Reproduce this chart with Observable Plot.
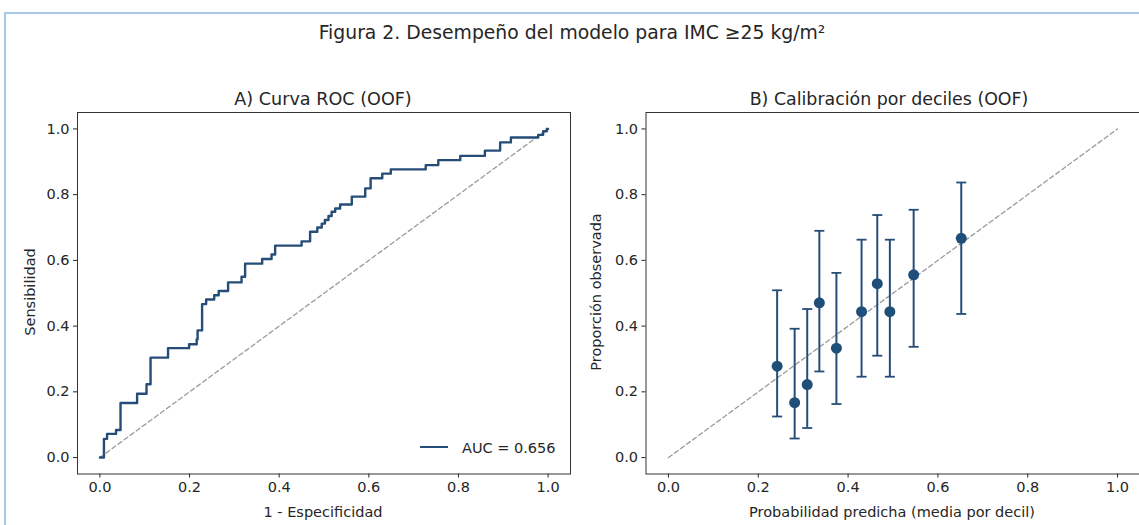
<!DOCTYPE html>
<html><head><meta charset="utf-8">
<script src="https://cdn.jsdelivr.net/npm/d3@7"></script>
<script src="https://cdn.jsdelivr.net/npm/@observablehq/plot@0.6"></script>
<style>
html,body{margin:0;padding:0;background:#fff;overflow:hidden}
#wrap{position:relative;width:1139px;height:525px;overflow:hidden;font-family:"DejaVu Sans",sans-serif;color:#262626}
#border{position:absolute;left:4px;top:12px;width:1300px;height:700px;border:2px solid #a9c7e8;box-sizing:border-box}
.t{position:absolute;white-space:nowrap;transform:translate(-50%,-50%);line-height:1}
.r{position:absolute;white-space:nowrap;transform:translate(-50%,-50%) rotate(-90deg);line-height:1;font-size:14.5px}
.p{position:absolute;top:85px;width:575px;height:440px}
.p svg{max-width:none !important}
#legend{position:absolute;left:420px;top:441px;font-size:14.5px;white-space:nowrap;line-height:1}
#legend .sw{display:inline-block;width:28px;height:0;border-top:2.5px solid #264d78;vertical-align:middle;margin-right:14px;position:relative;top:-2px}
</style></head><body>
<div id="wrap">
  <div id="border"></div>
  <div class="p" id="pA" style="left:0px"></div>
  <div class="p" id="pB" style="left:570px"></div>
  <div class="t" id="fig" style="left:572px;top:33px;font-size:18.8px"></div>
  <div class="t" id="tA" style="left:323px;top:100px;font-size:17.6px"></div>
  <div class="t" id="tB" style="left:889px;top:100px;font-size:17.4px"></div>
  <div class="t" id="xA" style="left:323px;top:512px;font-size:14.5px"></div>
  <div class="t" id="xB" style="left:892px;top:512px;font-size:14.5px"></div>
  <div class="r" id="yA" style="left:30px;top:292px"></div>
  <div class="r" id="yB" style="left:596px;top:292px"></div>
  <div id="legend"><span class="sw"></span><span id="legtxt"></span></div>
</div>
<script>
// ---- Text ----
const figTitle = "Figura 2. Desempeño del modelo para IMC ≥25 kg/m²";
const titleA = "A) Curva ROC (OOF)";
const titleB = "B) Calibración por deciles (OOF)";
const xLabelA = "1 - Especificidad";
const yLabelA = "Sensibilidad";
const xLabelB = "Probabilidad predicha (media por decil)";
const yLabelB = "Proporción observada";
const aucLabel = "AUC = 0.656";
const axisTicks = [0, 0.2, 0.4, 0.6, 0.8, 1.0];
const diagonal = [0, 1];

// ---- ROC curve (corner points; drawn as step-after) ----
const rocFpr = [0.000, 0.009, 0.016, 0.036, 0.046, 0.083, 0.104, 0.113, 0.152, 0.199,
  0.216, 0.218, 0.228, 0.237, 0.255, 0.265, 0.286, 0.316, 0.324, 0.362,
  0.383, 0.391, 0.450, 0.469, 0.485, 0.495, 0.502, 0.510, 0.517, 0.525,
  0.536, 0.562, 0.592, 0.604, 0.630, 0.649, 0.727, 0.755, 0.804, 0.859,
  0.893, 0.917, 0.978, 0.989, 0.997, 1.000];
const rocTpr = [0.000, 0.057, 0.072, 0.084, 0.166, 0.194, 0.223, 0.304, 0.333, 0.345,
  0.360, 0.387, 0.467, 0.481, 0.494, 0.507, 0.533, 0.550, 0.590, 0.604,
  0.618, 0.645, 0.658, 0.687, 0.700, 0.712, 0.723, 0.735, 0.748, 0.758,
  0.770, 0.794, 0.819, 0.850, 0.864, 0.877, 0.890, 0.905, 0.918, 0.934,
  0.959, 0.974, 0.982, 0.993, 1.000, 1.000];

// ---- Calibration by deciles ----
const calPred = [0.242, 0.281, 0.309, 0.336, 0.374, 0.430, 0.465, 0.493, 0.546, 0.652];
const calObs  = [0.278, 0.167, 0.222, 0.471, 0.333, 0.444, 0.529, 0.444, 0.556, 0.667];
const calLo   = [0.125, 0.058, 0.090, 0.262, 0.163, 0.246, 0.310, 0.246, 0.337, 0.437];
const calHi   = [0.509, 0.392, 0.452, 0.690, 0.562, 0.663, 0.738, 0.663, 0.754, 0.837];

const BLUE = "#264d78";
const DOT = "#1f4e79";
const FONT = "DejaVu Sans, sans-serif";

const setText = (id, s) => { document.getElementById(id).textContent = s; };
setText("fig", figTitle); setText("tA", titleA); setText("tB", titleB);
setText("xA", xLabelA); setText("yA", yLabelA);
setText("xB", xLabelB); setText("yB", yLabelB);
setText("legtxt", aucLabel);

const rocData = rocFpr.map((f, i) => ({fpr: f, tpr: rocTpr[i]}));
const diagData = diagonal.map(d => ({v: d}));
const calData = calPred.map((p, i) => ({pred: p, obs: calObs[i], lo: calLo[i], hi: calHi[i]}));

const capSymbol = {
  draw(ctx, size) {
    const h = Math.sqrt(size / Math.PI);
    ctx.moveTo(-h, 0); ctx.lineTo(h, 0);
  }
};

function axes() {
  return [
    Plot.axisX({ticks: axisTicks, tickFormat: d3.format(".1f"), tickSize: 4, tickPadding: 4, label: null, fontSize: 14.5}),
    Plot.axisY({ticks: axisTicks, tickFormat: d3.format(".1f"), tickSize: 4, tickPadding: 4, label: null, fontSize: 14.5}),
    Plot.frame({stroke: "#333", strokeWidth: 1})
  ];
}

const common = {
  height: 440, width: 575, marginTop: 27, marginBottom: 51.5,
  x: {domain: [-0.05, 1.05]}, y: {domain: [-0.05, 1.05]},
  style: {fontFamily: FONT, fontSize: "14.5px", color: "#262626", background: "transparent", overflow: "visible", maxWidth: "none"}
};

const pA = Plot.plot({
  ...common, marginLeft: 77, marginRight: 5,
  marks: [
    Plot.line(diagData, {x: "v", y: "v", stroke: "#9a9a9a", strokeWidth: 1.3, strokeDasharray: "4.5,3"}),
    Plot.line(rocData, {x: "fpr", y: "tpr", curve: "step-after", stroke: BLUE, strokeWidth: 2.4}),
    ...axes()
  ]
});
document.getElementById("pA").appendChild(pA);

const pB = Plot.plot({
  ...common, marginLeft: 75.5, marginRight: 5.5,
  marks: [
    Plot.line(diagData, {x: "v", y: "v", stroke: "#9a9a9a", strokeWidth: 1.3, strokeDasharray: "4.5,3"}),
    Plot.ruleX(calData, {x: "pred", y1: "lo", y2: "hi", stroke: BLUE, strokeWidth: 2}),
    Plot.dot(calData, {x: "pred", y: "lo", symbol: capSymbol, r: 5, stroke: BLUE, strokeWidth: 1.8, fill: "none"}),
    Plot.dot(calData, {x: "pred", y: "hi", symbol: capSymbol, r: 5, stroke: BLUE, strokeWidth: 1.8, fill: "none"}),
    Plot.dot(calData, {x: "pred", y: "obs", r: 5.5, fill: DOT, stroke: "none"}),
    ...axes()
  ]
});
document.getElementById("pB").appendChild(pB);
</script>
</body></html>
